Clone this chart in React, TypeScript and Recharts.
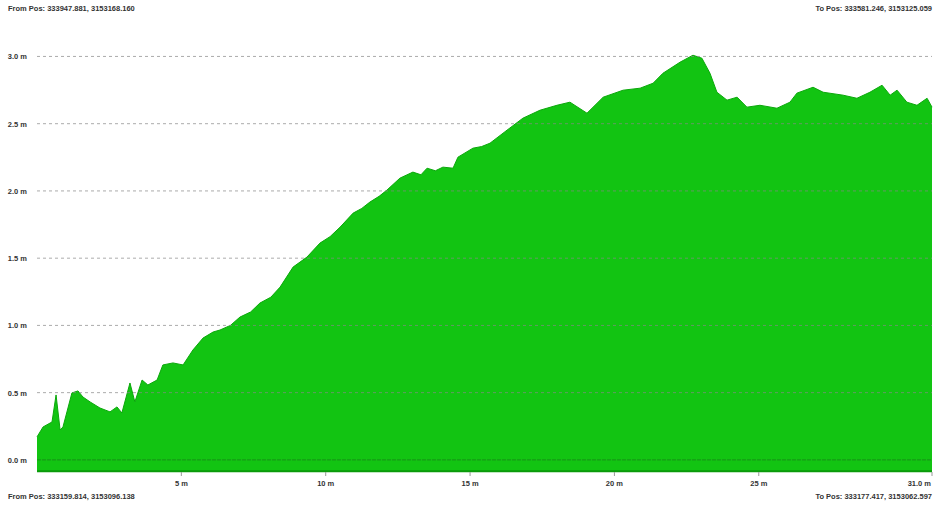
import React from "react";
import { AreaChart, Area, XAxis, YAxis, ReferenceLine } from "recharts";

const distances = [0.00,0.21,0.52,0.66,0.80,0.90,1.21,1.42,1.59,1.84,2.18,2.53,2.77,2.94,3.22,3.39,3.64,3.84,4.16,4.36,4.71,5.06,5.40,5.75,6.10,6.34,6.70,7.03,7.40,7.72,8.10,8.42,8.87,9.35,9.80,10.15,10.50,10.95,11.25,11.53,11.85,12.12,12.57,13.02,13.30,13.51,13.80,14.06,14.41,14.58,15.10,15.40,15.69,16.28,16.83,17.42,18.01,18.46,19.05,19.61,20.30,20.89,21.34,21.68,22.27,22.72,23.03,23.31,23.55,23.90,24.25,24.59,25.04,25.63,26.08,26.32,26.88,27.23,27.92,28.40,28.85,29.27,29.55,29.79,30.13,30.48,30.83,31.00];
const heights = [0.171,0.245,0.282,0.483,0.223,0.245,0.498,0.513,0.468,0.431,0.386,0.357,0.394,0.349,0.572,0.431,0.594,0.557,0.594,0.706,0.721,0.706,0.817,0.906,0.951,0.966,1.000,1.062,1.100,1.166,1.210,1.285,1.434,1.508,1.612,1.660,1.731,1.835,1.870,1.917,1.960,2.006,2.095,2.140,2.120,2.169,2.150,2.177,2.169,2.251,2.318,2.330,2.355,2.452,2.541,2.600,2.637,2.660,2.578,2.697,2.749,2.764,2.801,2.875,2.957,3.009,2.987,2.875,2.734,2.675,2.697,2.623,2.637,2.615,2.660,2.727,2.771,2.734,2.712,2.689,2.734,2.786,2.712,2.749,2.660,2.637,2.689,2.623];

const yTicks = [0, 0.5, 1.0, 1.5, 2.0, 2.5, 3.0];
const xTicks = [5, 10, 15, 20, 25, 31];
const topLeftLabel = "From Pos: 333947.881, 3153168.160";
const topRightLabel = "To Pos: 333581.246, 3153125.059";
const bottomLeftLabel = "From Pos: 333159.814, 3153096.138";
const bottomRightLabel = "To Pos: 333177.417, 3153062.597";

const data = distances.map((d, i) => ({ d, h: heights[i] }));

const FONT = "'Liberation Sans', Arial, sans-serif";

const XTick = (props: any) => {
  const { x, y, payload } = props;
  const last = payload.value === 31;
  const label = last ? "31.0 m" : `${payload.value} m`;
  return (
    <text x={x} y={y + 8} textAnchor={last ? "end" : "middle"} fontSize={7.5} fontWeight="bold" fill="#333" fontFamily={FONT}>
      {label}
    </text>
  );
};

const YTick = (props: any) => {
  const { x, y, payload } = props;
  return (
    <text x={x - 2} y={y + 3} textAnchor="end" fontSize={7.5} fontWeight="bold" fill="#333" fontFamily={FONT}>
      {`${payload.value.toFixed(1)} m`}
    </text>
  );
};

const textStyle: React.CSSProperties = {
  position: "absolute",
  fontFamily: FONT,
  fontSize: 7.5,
  fontWeight: "bold",
  color: "#333",
  whiteSpace: "nowrap",
};

export default function App() {
  return (
    <div style={{ position: "fixed", left: 0, top: 0, width: 939, height: 510, background: "#fff" }}>
      <AreaChart width={939} height={510} data={data} margin={{ top: 43, right: 7, bottom: 0, left: 0 }}>
        <XAxis
          dataKey="d"
          type="number"
          domain={[0, 31]}
          ticks={xTicks}
          tick={<XTick />}
          axisLine={false}
          tickLine={{ stroke: "#999" }}
          tickSize={4}
          height={38}
        />
        <YAxis
          type="number"
          domain={[-0.09, 3.1]}
          ticks={yTicks}
          tick={<YTick />}
          axisLine={false}
          tickLine={false}
          width={37}
        />
        <Area
          type="linear"
          dataKey="h"
          baseValue={-0.09}
          stroke="#0aa80a"
          strokeWidth={1}
          fill="#12c412"
          fillOpacity={1}
          isAnimationActive={false}
          dot={false}
          activeDot={false}
        />
        {yTicks.map((t) => (
          <ReferenceLine key={t} y={t} stroke={t === 0 ? "#1a7a1a" : "#888"} strokeOpacity={0.7} strokeDasharray={t === 0 ? "4 1" : "3 3"} strokeWidth={1} />
        ))}
        <ReferenceLine y={-0.085} stroke="#0a9a0a" strokeWidth={2} />
      </AreaChart>
      <div style={{ ...textStyle, left: 8, top: 4 }}>{topLeftLabel}</div>
      <div style={{ ...textStyle, right: 7, top: 4 }}>{topRightLabel}</div>
      <div style={{ ...textStyle, left: 8, top: 492 }}>{bottomLeftLabel}</div>
      <div style={{ ...textStyle, right: 7, top: 492 }}>{bottomRightLabel}</div>
    </div>
  );
}
